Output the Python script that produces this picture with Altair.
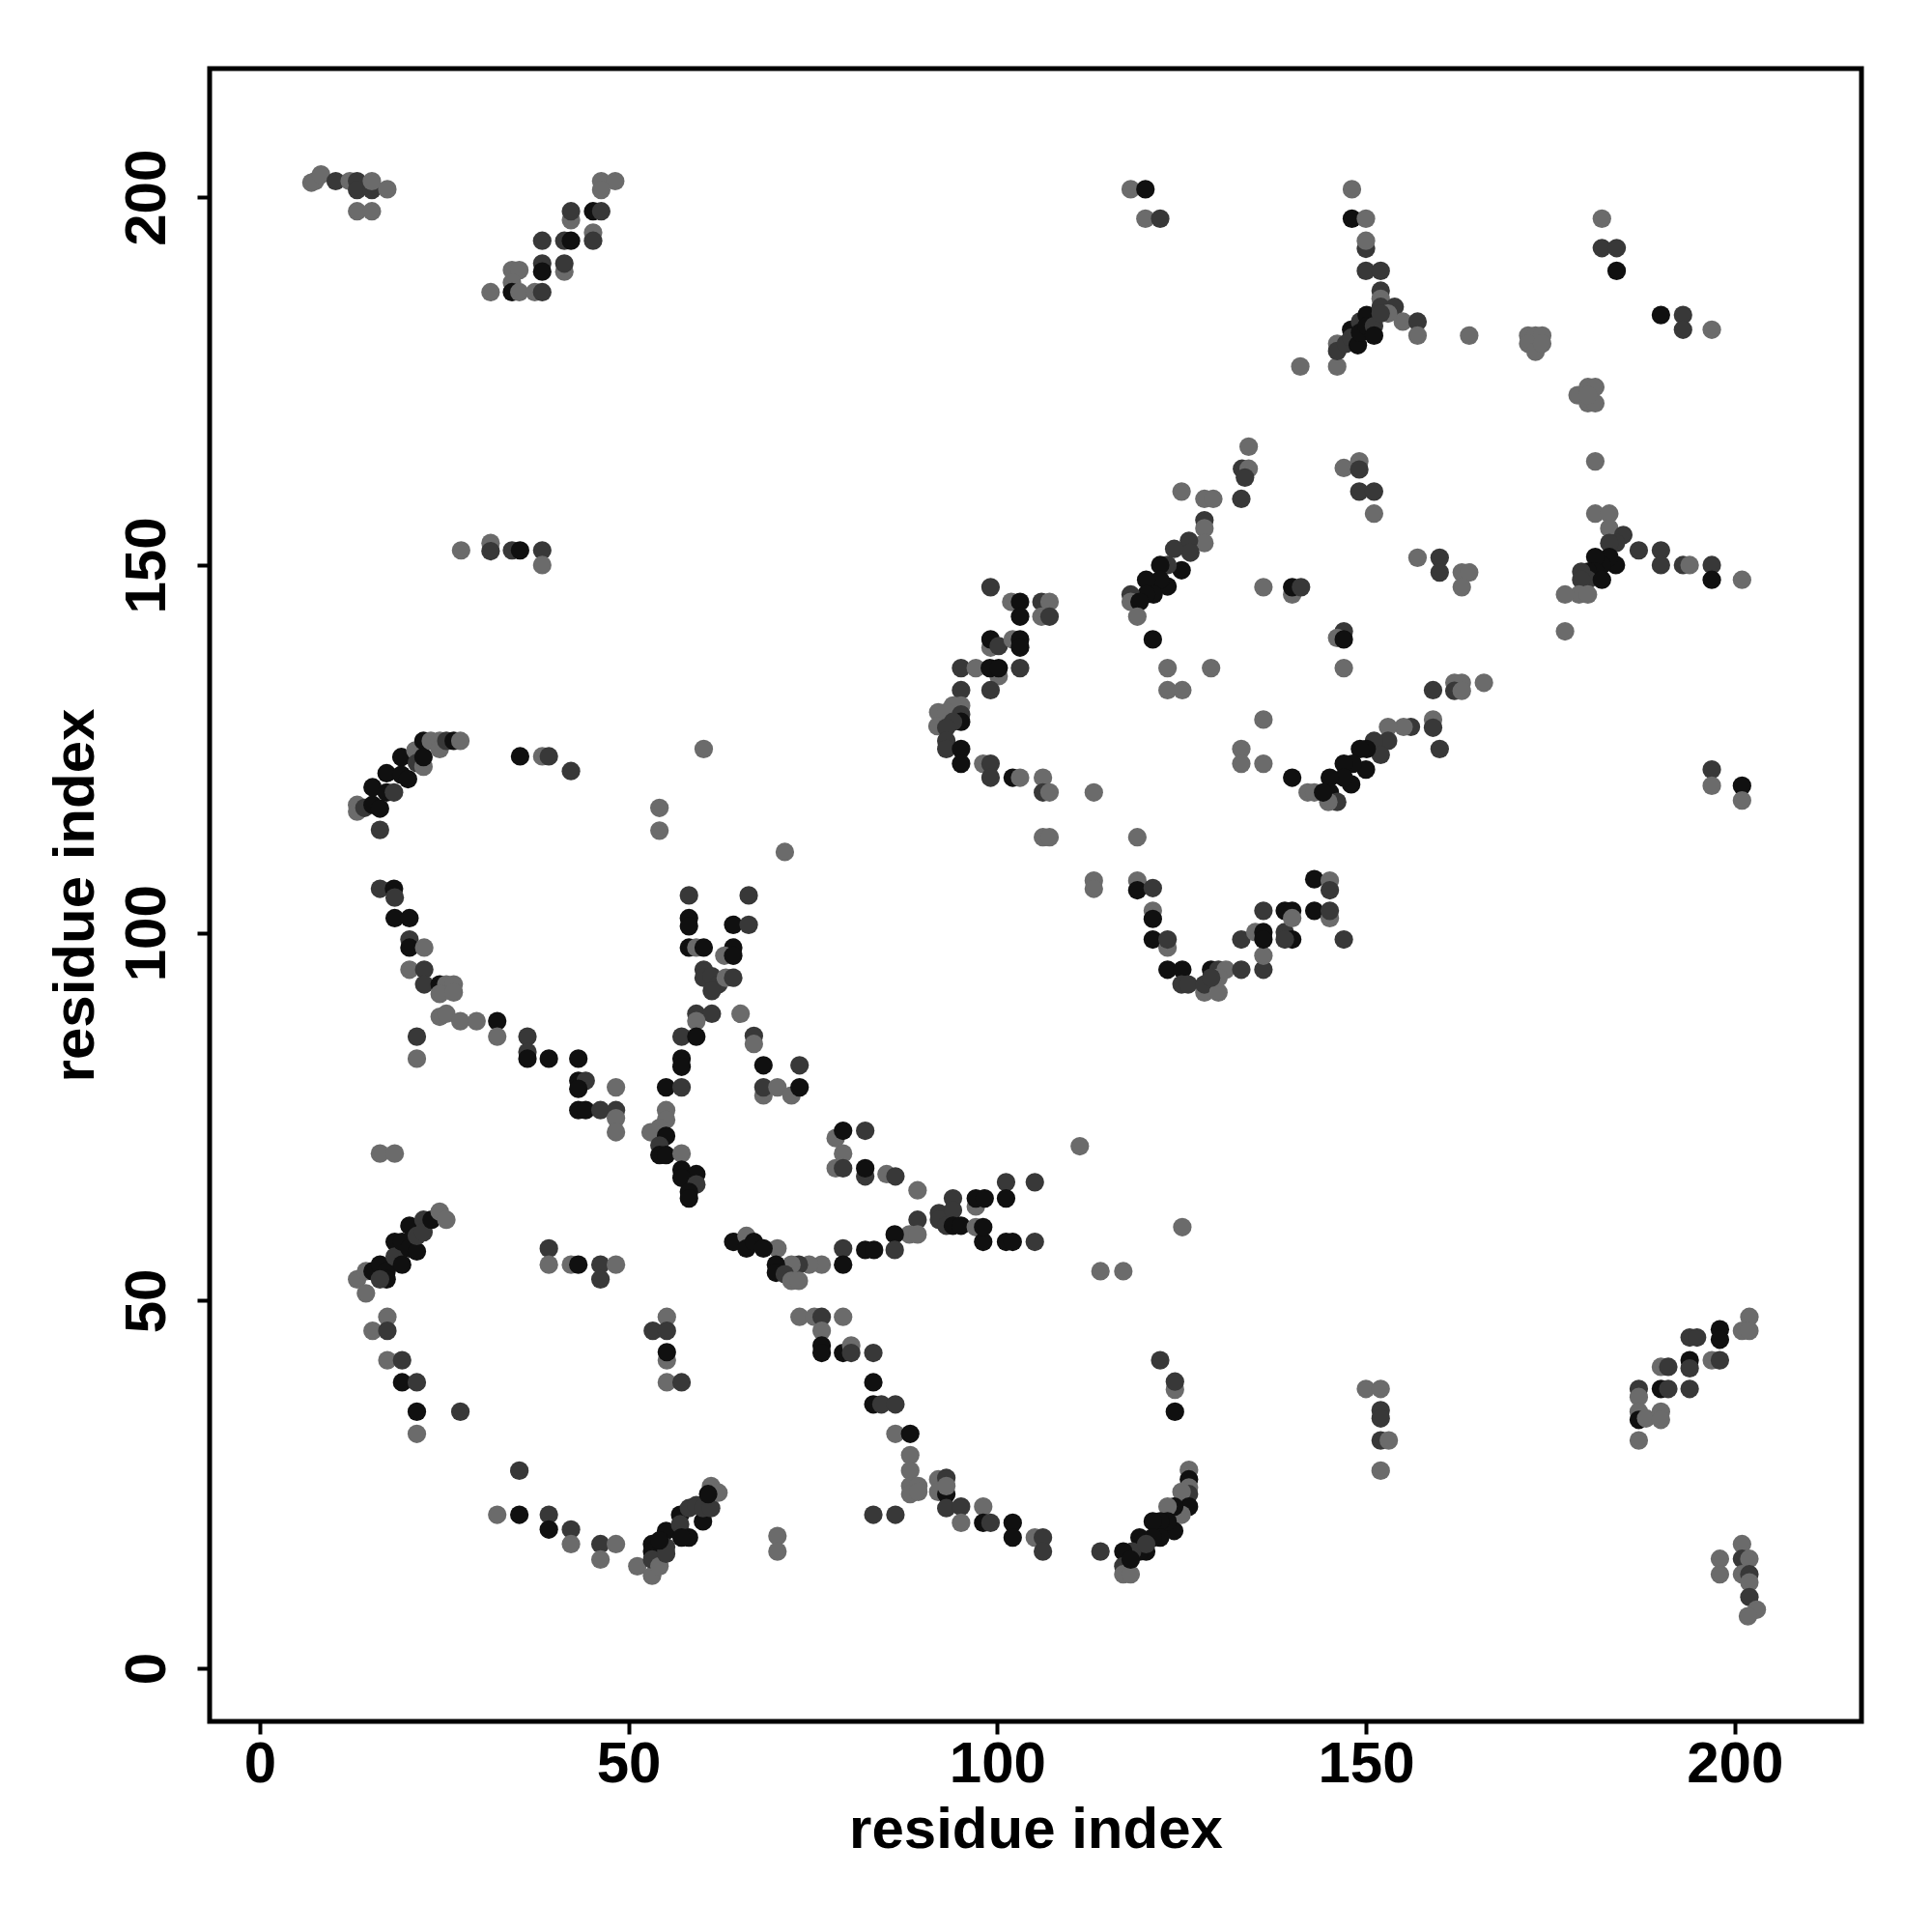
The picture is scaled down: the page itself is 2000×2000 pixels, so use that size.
import altair as alt
import pandas as pd

# (residue i, residue j, shade)  shade: g = gray, d = dark gray, b = black
top_left = [
    (7.0,202.0,'g'),(7.5,202.2,'g'),(8.3,203.1,'g'),(10.3,202.2,'d'),(12.2,202.2,'g'),(13.2,202.2,'d'),
    (13.2,201.0,'d'),(15.2,201.0,'d'),(15.2,202.2,'g'),(17.3,201.1,'g'),(13.2,198.1,'g'),(15.2,198.1,'g'),
    (46.3,202.2,'g'),(48.2,202.2,'g'),(46.3,201.0,'g'),(42.2,196.9,'g'),(42.2,198.1,'d'),(45.2,198.1,'b'),
    (46.3,198.1,'d'),(45.2,195.2,'g'),(45.2,194.1,'d'),(38.3,194.1,'d'),(41.3,194.1,'d'),(42.2,194.1,'b'),
    (38.3,191.0,'d'),(38.3,189.9,'b'),(41.3,189.9,'g'),(41.3,191.0,'d'),(34.2,190.1,'g'),(35.2,190.1,'g'),
    (34.2,188.4,'g'),(31.3,187.1,'g'),(34.2,187.1,'b'),(35.2,187.1,'g'),(37.3,187.1,'g'),(38.3,187.1,'d'),
]
top_mid = [
    (118.1,201.1,'g'),(120.1,201.1,'b'),(120.1,197.1,'g'),(122.1,197.1,'d'),(141.1,177.0,'g'),
    (134.1,166.1,'g'),(133.2,163.1,'d'),(134.1,163.1,'g'),(133.6,161.9,'d'),(125.0,160.0,'g'),
]
top_right = [
    (148.1,201.1,'g'),(148.1,197.1,'b'),(150.0,197.1,'g'),(150.0,193.0,'d'),(150.0,194.1,'g'),(150.0,190.0,'d'),
    (152.0,190.0,'d'),(152.0,187.3,'d'),(152.0,186.2,'g'),(153.9,185.1,'d'),(155.0,183.1,'g'),(157.0,183.1,'d'),
    (157.0,181.2,'g'),(164.0,181.2,'g'),
    (172.0,181.2,'g'),(173.0,181.2,'g'),(173.9,181.2,'g'),(172.0,180.1,'g'),(173.0,179.0,'g'),(173.9,180.1,'g'),
    (146.1,177.0,'g'),(146.1,180.1,'g'),(146.1,179.1,'d'),(147.3,180.1,'d'),(148.0,182.0,'b'),(148.0,180.9,'d'),
    (148.9,179.9,'b'),(149.2,183.1,'d'),(149.2,181.6,'b'),(150.1,184.0,'b'),(150.1,182.5,'b'),(151.1,182.5,'d'),
    (151.1,181.2,'b'),(152.0,185.1,'d'),(153.0,184.2,'g'),(152.0,184.2,'d'),
    (181.1,164.1,'g'),(190.0,184.0,'b'),(193.0,184.0,'d'),(193.0,182.0,'d'),(196.9,182.0,'g'),
    (182.0,197.1,'g'),(182.0,193.1,'d'),(184.0,193.1,'d'),(184.0,190.0,'b'),
    (178.7,173.1,'g'),(180.1,174.2,'g'),(181.1,174.2,'g'),(180.1,172.0,'g'),(181.1,172.0,'g'),(180.1,173.1,'g'),
    (147.0,163.2,'g'),(149.1,164.1,'g'),(149.1,163.0,'d'),
]
mid_left = [
    (27.3,152.0,'g'),(31.3,153.0,'g'),(31.3,151.9,'d'),(34.2,152.0,'d'),(35.3,152.0,'b'),(38.3,152.0,'d'),(38.3,150.0,'g'),
    (13.2,117.4,'g'),(13.2,116.5,'g'),(14.2,117.0,'d'),(15.3,117.4,'b'),(15.3,119.8,'b'),(16.3,116.9,'b'),
    (17.2,121.7,'b'),(17.2,119.1,'b'),(18.2,119.1,'d'),(19.2,123.9,'b'),(19.2,121.5,'b'),(20.1,120.9,'b'),
    (21.1,124.8,'g'),(21.3,123.1,'d'),(22.2,122.6,'g'),(22.2,126.1,'b'),(22.2,123.9,'b'),(23.2,126.1,'g'),
    (24.4,126.1,'g'),(24.4,125.0,'g'),(25.3,126.1,'d'),(26.3,126.1,'b'),(27.2,126.1,'g'),(16.3,114.0,'d'),
    (35.3,124.0,'b'),(38.3,124.0,'g'),(39.2,124.0,'d'),(42.2,122.0,'d'),(60.2,125.0,'g'),(54.2,117.0,'g'),
    (54.2,113.9,'g'),(16.3,106.0,'d'),(18.2,106.0,'b'),(58.2,105.1,'d'),(66.3,105.1,'d'),
]
mid_center = [
    (128.1,159.0,'g'),(129.3,159.0,'g'),(133.1,159.0,'d'),(128.1,156.1,'d'),(128.1,155.0,'g'),(128.1,153.0,'g'),
    (126.0,153.3,'d'),(126.2,151.7,'d'),(124.0,152.2,'d'),(125.0,149.3,'b'),(123.1,150.0,'d'),(122.1,150.0,'b'),
    (123.1,147.1,'b'),(122.1,148.0,'b'),(120.2,148.0,'b'),(121.2,146.0,'b'),(120.2,146.0,'b'),(118.1,146.0,'d'),
    (118.1,145.0,'g'),(119.3,145.0,'b'),(119.0,143.0,'g'),(121.1,139.9,'b'),
    (136.1,147.0,'g'),(140.0,146.0,'g'),(140.0,147.0,'b'),(141.2,147.0,'d'),(123.1,136.0,'g'),(129.0,136.0,'g'),
    (123.1,133.0,'g'),(125.1,133.0,'g'),(136.1,129.0,'g'),(133.1,125.0,'g'),(133.1,123.0,'g'),(136.1,123.0,'g'),
    (140.0,121.1,'b'),(142.1,119.1,'g'),
    (99.1,147.0,'d'),(101.9,145.0,'g'),(103.1,145.0,'b'),(103.1,143.0,'b'),(106.0,145.0,'d'),(107.1,145.0,'g'),
    (106.0,143.0,'g'),(107.1,143.0,'d'),(99.1,138.8,'g'),(99.1,139.9,'b'),(100.2,139.0,'d'),(102.1,139.9,'g'),
    (103.1,139.9,'b'),(103.1,138.8,'b'),(95.1,136.0,'d'),(97.1,136.0,'g'),(100.2,134.9,'g'),(99.0,136.0,'b'),
    (100.2,136.0,'b'),(103.1,136.0,'d'),(95.1,133.0,'d'),(99.1,133.0,'d'),(95.1,130.9,'g'),(94.0,130.9,'g'),
    (92.0,130.0,'g'),(93.1,130.0,'g'),(95.1,129.7,'d'),(95.1,128.7,'b'),(94.0,128.7,'d'),(91.9,128.1,'g'),
    (93.1,127.9,'d'),(93.1,126.1,'d'),(93.1,125.0,'d'),(95.1,125.0,'b'),(95.1,123.0,'b'),(98.1,123.0,'g'),
    (99.1,123.0,'d'),(99.1,121.1,'d'),(102.1,121.1,'b'),(103.1,121.1,'g'),(106.2,121.1,'g'),(106.2,119.1,'d'),
    (107.1,119.1,'g'),(113.1,119.1,'g'),(106.2,113.0,'g'),(107.1,113.0,'g'),(119.0,113.0,'g'),(71.2,111.0,'g'),
    (113.1,107.1,'g'),(113.1,106.0,'g'),(119.0,107.1,'g'),(119.0,105.8,'b'),(121.1,106.1,'d'),
]
mid_right = [
    (149.1,160.0,'d'),(151.1,160.0,'d'),(151.1,157.0,'g'),(157.0,151.0,'g'),(160.0,151.0,'d'),(160.0,149.0,'d'),
    (163.0,149.0,'g'),(164.0,149.0,'g'),(163.0,147.0,'g'),
    (181.1,157.0,'g'),(183.0,157.0,'g'),(183.0,155.0,'g'),(184.9,154.1,'d'),(187.0,152.0,'d'),(190.0,152.0,'d'),
    (190.0,150.0,'d'),(193.0,150.0,'d'),(193.9,150.0,'g'),(196.9,150.0,'d'),(196.9,148.0,'b'),(201.0,148.0,'g'),
    (183.9,153.0,'d'),(183.0,153.0,'d'),(183.9,150.0,'b'),(183.0,151.1,'b'),(182.0,150.0,'b'),(181.1,151.1,'b'),
    (181.1,149.1,'b'),(180.1,149.1,'b'),(180.1,148.0,'d'),(179.2,149.1,'d'),(179.2,148.0,'d'),(182.0,148.0,'b'),
    (178.9,146.0,'g'),(180.1,146.0,'g'),(177.0,146.0,'g'),
    (177.0,141.0,'g'),(147.0,141.0,'d'),(146.1,140.1,'g'),(147.0,139.9,'b'),(147.0,136.0,'g'),(159.1,133.0,'d'),
    (162.0,134.0,'g'),(163.0,134.0,'g'),(162.0,132.9,'d'),(163.0,132.9,'g'),(166.0,134.0,'g'),(159.1,129.0,'g'),
    (159.1,127.9,'d'),(156.1,128.0,'d'),(155.1,128.0,'g'),(153.0,128.0,'g'),(160.0,125.0,'d'),
    (153.0,126.1,'d'),(151.1,126.1,'d'),(152.0,124.2,'d'),(150.1,125.0,'b'),(149.2,125.0,'b'),(150.0,122.2,'b'),
    (148.2,123.0,'b'),(147.0,123.0,'b'),(148.0,120.2,'b'),(147.0,121.1,'b'),(145.1,121.1,'b'),(145.1,119.1,'b'),
    (146.1,117.8,'d'),(144.9,117.8,'g'),(143.0,119.1,'g'),(144.2,119.1,'b'),
    (196.9,122.2,'d'),(196.9,120.0,'g'),(201.0,120.0,'b'),(201.0,118.0,'g'),
    (143.0,107.3,'b'),(145.1,107.1,'g'),(145.1,105.8,'d'),
]
low_left = [
    (18.3,104.8,'d'),(18.3,102.0,'b'),(20.3,102.0,'b'),(20.3,99.1,'d'),(20.3,98.0,'b'),(22.3,98.0,'g'),
    (20.3,95.0,'g'),(22.3,95.0,'d'),(22.3,93.0,'d'),(24.4,93.0,'b'),(25.3,93.0,'g'),(26.3,93.0,'g'),
    (24.4,91.7,'g'),(26.3,91.9,'g'),(24.4,88.6,'g'),(25.3,89.0,'g'),(27.2,88.0,'g'),(29.4,88.0,'g'),
    (32.2,88.0,'b'),(32.2,85.9,'g'),(21.3,85.9,'d'),(21.3,82.9,'g'),(36.3,85.9,'d'),(36.3,83.8,'d'),
    (36.3,82.9,'b'),(39.2,82.9,'b'),(43.2,82.9,'b'),(43.2,79.9,'b'),(44.2,79.9,'d'),(43.2,78.8,'b'),
    (48.3,79.0,'g'),(43.2,75.9,'b'),(44.2,75.9,'b'),(46.2,75.9,'d'),(48.3,75.9,'d'),(48.3,74.8,'g'),
    (48.3,72.9,'g'),(16.3,70.0,'g'),(18.3,70.0,'g'),
    (13.2,52.9,'g'),(14.4,51.0,'g'),(14.4,54.0,'g'),(15.3,54.0,'b'),(16.3,54.9,'b'),(17.2,54.0,'b'),
    (17.2,52.9,'b'),(16.3,52.9,'d'),(18.3,58.0,'b'),(18.3,56.0,'d'),(19.3,54.9,'b'),(19.3,58.0,'b'),
    (20.3,60.2,'b'),(20.3,57.1,'b'),(21.3,56.7,'b'),(21.3,58.8,'d'),(22.2,61.0,'d'),(22.2,59.3,'d'),
    (23.3,61.0,'b'),(24.4,62.1,'g'),(25.3,61.0,'g'),
    (39.2,57.1,'d'),(39.2,54.9,'g'),(42.2,54.9,'g'),(43.2,54.9,'b'),(46.2,54.9,'d'),(48.3,54.9,'g'),(46.2,52.9,'d'),
    (58.2,102.0,'b'),(58.2,100.9,'b'),(64.2,101.1,'b'),(66.3,101.1,'d'),(58.2,98.0,'b'),(59.2,98.0,'g'),
    (60.2,98.0,'b'),(64.2,98.0,'b'),(63.0,96.9,'g'),(64.2,96.9,'b'),(60.2,95.0,'d'),(60.2,93.9,'d'),
    (61.3,94.1,'d'),(62.2,93.0,'d'),(61.3,92.1,'d'),(63.2,93.9,'g'),(64.2,93.9,'d'),(59.2,89.0,'d'),
    (61.3,89.0,'d'),(59.2,88.0,'g'),(65.2,89.0,'g'),(57.2,85.9,'d'),(59.2,85.9,'b'),(57.2,82.9,'b'),
    (57.2,81.8,'b'),(55.1,79.0,'b'),(57.2,79.0,'d'),(55.1,75.9,'g'),(55.1,74.6,'g'),(54.2,73.5,'g'),
    (53.0,72.9,'g'),(55.1,72.4,'b'),(54.2,71.1,'d'),(54.2,69.8,'b'),(55.1,69.8,'b'),(57.2,70.0,'g'),
    (57.2,67.8,'b'),(59.2,67.2,'b'),(57.2,66.7,'b'),(59.2,65.8,'d'),(58.2,64.8,'b'),(58.2,63.9,'b'),
    (67.0,86.0,'d'),(67.0,84.9,'g'),(64.2,58.0,'b'),(66.0,58.8,'g'),(66.0,57.1,'b'),(67.0,58.0,'b'),
]
low_center = [
    (68.3,82.0,'b'),(73.2,82.0,'d'),(68.3,77.9,'g'),(68.3,79.0,'d'),(70.2,79.0,'g'),(72.1,77.9,'g'),(73.2,79.0,'b'),
    (78.1,72.1,'g'),(79.1,73.1,'b'),(82.1,73.1,'d'),(79.1,70.0,'g'),(78.1,68.0,'g'),(79.1,68.0,'d'),
    (82.1,66.9,'d'),(82.1,68.0,'b'),(85.0,67.2,'g'),(86.2,66.9,'d'),(89.2,65.0,'g'),(111.2,71.0,'g'),
    (125.1,60.0,'g'),(94.0,63.9,'d'),(97.1,62.8,'g'),(97.1,63.9,'b'),(98.3,63.9,'b'),(101.2,66.1,'d'),
    (105.1,66.1,'d'),(101.2,63.9,'b'),(92.1,61.9,'d'),(92.1,61.0,'d'),(93.1,60.2,'d'),(94.0,62.3,'d'),
    (94.0,60.2,'b'),(95.1,60.2,'b'),(97.1,60.0,'g'),(98.1,58.0,'b'),(98.1,60.0,'b'),(101.2,58.0,'b'),
    (102.1,58.0,'b'),(105.1,58.0,'d'),(89.2,61.0,'d'),(88.1,59.0,'g'),(89.2,59.0,'g'),(86.1,59.0,'b'),
    (86.1,56.9,'d'),(82.1,56.9,'b'),(83.3,56.9,'b'),(79.1,57.1,'d'),(79.1,54.9,'b'),(76.2,54.9,'g'),
    (74.5,54.9,'g'),(73.1,54.9,'d'),(72.1,54.9,'g'),(70.2,57.1,'g'),(70.0,54.9,'b'),(70.0,53.8,'b'),
    (71.2,53.6,'d'),(72.1,52.7,'g'),(73.1,52.7,'g'),(68.3,57.1,'b'),(114.0,54.0,'g'),(117.1,54.0,'g'),
    (121.1,103.0,'g'),(121.1,101.9,'b'),(121.1,99.1,'b'),(123.1,98.0,'g'),(123.1,99.1,'d'),(123.1,95.0,'b'),
    (125.1,95.0,'b'),(125.0,93.0,'d'),(125.9,93.0,'d'),(128.1,91.9,'g'),(128.1,93.0,'d'),(129.0,95.0,'b'),
    (130.0,95.0,'d'),(131.0,95.0,'g'),(130.0,91.9,'g'),(130.0,93.9,'g'),(129.0,93.9,'d'),(133.1,95.0,'d'),
    (136.1,95.0,'d'),(136.1,96.9,'g'),(133.1,99.1,'d'),(135.0,100.1,'g'),(136.1,100.1,'b'),(136.1,99.1,'b'),
    (136.1,103.0,'d'),(139.0,103.0,'b'),(140.0,103.0,'b'),(139.0,100.1,'d'),(140.0,99.1,'b'),(139.0,99.1,'d'),
    (140.0,102.0,'g'),(143.0,103.0,'b'),(145.1,102.0,'g'),(145.1,103.0,'d'),(147.0,99.1,'d'),
]
bottom_left = [
    (17.3,47.8,'g'),(15.3,45.9,'g'),(17.3,45.9,'d'),(17.3,41.9,'g'),(19.3,41.9,'d'),(19.3,38.9,'b'),
    (21.3,38.9,'d'),(21.3,34.9,'b'),(21.3,31.9,'g'),(27.2,34.9,'d'),(35.2,26.9,'d'),(32.2,20.9,'g'),
    (35.2,20.9,'b'),(39.2,20.9,'d'),(39.2,18.9,'b'),(42.2,18.9,'d'),(42.2,16.9,'g'),(46.2,16.9,'d'),
    (48.3,16.9,'g'),(46.2,14.8,'g'),(51.2,13.9,'g'),(53.2,12.6,'g'),
    (53.2,16.9,'b'),(53.2,15.9,'b'),(53.2,14.8,'d'),(54.2,13.9,'g'),(55.1,18.7,'b'),(55.1,16.5,'d'),
    (55.1,15.6,'d'),(54.2,17.4,'b'),(57.0,20.9,'b'),(57.0,19.6,'d'),(58.2,17.8,'b'),(57.2,17.8,'b'),
    (58.2,21.8,'d'),(59.2,22.2,'d'),(60.1,20.0,'b'),(60.1,21.8,'d'),(61.2,21.8,'d'),(61.2,24.8,'g'),
    (62.2,23.9,'g'),(60.8,23.7,'b'),
    (55.2,47.8,'g'),(53.3,45.9,'d'),(55.2,45.9,'d'),(55.2,41.9,'g'),(55.2,43.0,'b'),(55.2,38.9,'g'),(57.2,38.9,'d'),
]
bottom_center = [
    (73.2,47.8,'g'),(75.2,47.8,'g'),(76.2,47.8,'d'),(79.1,47.8,'g'),(76.2,45.9,'g'),(76.2,43.9,'b'),
    (76.2,42.9,'b'),(79.1,42.9,'b'),(80.2,43.9,'g'),(80.2,42.9,'d'),(83.2,42.9,'d'),(83.2,38.9,'b'),
    (83.2,35.9,'b'),(84.3,35.9,'d'),(86.2,35.9,'d'),(86.2,31.9,'g'),(88.2,31.9,'b'),(88.2,29.0,'g'),
    (88.2,26.9,'g'),(88.2,24.8,'g'),(89.3,24.8,'g'),(88.2,23.7,'g'),(89.3,24.0,'g'),(92.0,25.7,'g'),
    (93.1,25.9,'d'),(92.0,24.0,'g'),(93.1,23.7,'b'),(93.1,24.8,'g'),(93.1,21.8,'d'),(95.1,22.0,'d'),
    (95.1,19.8,'g'),(98.1,22.0,'g'),(98.1,19.8,'b'),(99.1,19.8,'d'),(102.1,19.8,'b'),(102.1,17.8,'b'),
    (105.1,17.8,'g'),(106.2,17.8,'d'),(106.2,15.9,'d'),(83.2,20.9,'d'),(86.2,20.9,'d'),(70.2,18.0,'g'),
    (70.2,15.9,'g'),(114.0,15.9,'d'),(122.1,41.9,'d'),(124.1,37.9,'g'),(124.1,39.0,'d'),(124.1,34.9,'b'),
    (126.0,27.0,'g'),(126.0,25.7,'b'),(126.0,24.6,'g'),(126.0,23.7,'d'),(125.0,24.0,'g'),(126.0,22.0,'b'),
    (125.0,20.9,'g'),(124.0,22.0,'b'),(123.1,22.0,'g'),(124.0,18.7,'b'),(123.1,20.0,'b'),(122.1,20.0,'b'),
    (122.1,17.8,'b'),(121.1,20.0,'b'),(121.1,17.8,'b'),(120.2,15.9,'b'),(119.3,17.8,'b'),(119.3,15.9,'b'),
    (118.3,15.9,'d'),(117.1,15.9,'b'),(117.1,13.9,'d'),(117.1,12.8,'g'),(118.1,12.8,'g'),(118.1,14.8,'b'),
    (120.2,16.9,'d'),
]
bottom_right = [
    (202.0,47.8,'g'),(201.0,45.9,'g'),(202.0,45.9,'g'),(198.0,46.1,'b'),(198.0,44.7,'b'),(193.9,45.0,'d'),
    (194.9,45.0,'d'),(196.9,41.9,'g'),(198.0,41.9,'d'),(193.9,41.9,'b'),(193.9,40.8,'d'),(190.0,41.0,'g'),
    (191.0,41.0,'d'),(187.0,38.0,'d'),(187.0,36.9,'g'),(190.0,38.0,'b'),(191.0,38.0,'d'),(193.9,38.0,'d'),
    (187.0,34.9,'g'),(187.0,33.8,'b'),(188.0,34.0,'g'),(190.0,34.9,'g'),(190.0,33.8,'g'),(187.0,31.0,'g'),
    (150.0,38.0,'g'),(152.0,38.0,'g'),(152.0,35.1,'d'),(152.0,34.0,'d'),(152.0,31.0,'d'),(153.1,31.0,'g'),
    (152.0,26.9,'g'),
    (201.0,16.9,'g'),(198.0,14.9,'g'),(198.0,12.8,'g'),(201.0,14.9,'d'),(202.0,14.9,'g'),(201.0,12.8,'g'),
    (202.0,12.8,'d'),(202.0,11.7,'g'),(202.0,9.7,'d'),(203.0,8.0,'g'),(201.8,7.1,'g'),
]

regions = [top_left, top_mid, top_right, mid_left, mid_center, mid_right,
           low_left, low_center, bottom_left, bottom_center, bottom_right]
rows = [p for reg in regions for p in reg]
df = pd.DataFrame(rows, columns=["i", "j", "shade"])

shade_domain = ["g", "d", "b"]
shade_colors = ["#6b6b6b", "#383838", "#101010"]
tick_values = [0, 50, 100, 150, 200]

FONT = "Liberation Sans"
FS = 60
W, H = 1710, 1711

chart = alt.Chart(df).mark_circle(size=370, opacity=1).encode(
    x=alt.X("i:Q", scale=alt.Scale(domain=[-6.8, 217.2], nice=False, zero=False),
            axis=alt.Axis(values=tick_values, title="residue index", grid=False, domain=False,
                          tickColor="black", tickWidth=4, tickSize=13, labelPadding=2,
                          labelFont=FONT, labelFontSize=FS, labelFontWeight="bold", labelColor="black",
                          titleFont=FONT, titleFontSize=FS, titleFontWeight="bold", titleColor="black",
                          titleY=130, titleBaseline="alphabetic", labelFlush=False)),
    y=alt.Y("j:Q", scale=alt.Scale(domain=[-7.2, 217.5], nice=False, zero=False),
            axis=alt.Axis(values=tick_values, title="residue index", grid=False, domain=False,
                          tickColor="black", tickWidth=4, tickSize=13, labelPadding=34,
                          labelAngle=270, labelAlign="center", labelBaseline="alphabetic",
                          labelFont=FONT, labelFontSize=FS, labelFontWeight="bold", labelColor="black",
                          titleFont=FONT, titleFontSize=FS, titleFontWeight="bold", titleColor="black",
                          titleAngle=270, titleAlign="center", titleBaseline="alphabetic",
                          titleX=-121, titleY=H / 2, labelFlush=False)),
    color=alt.Color("shade:N", scale=alt.Scale(domain=shade_domain, range=shade_colors), legend=None),
).properties(
    width=W, height=H,
    autosize="none",
    padding={"left": 209, "top": 63, "right": 60, "bottom": 200},
    background="white",
).configure_view(stroke="black", strokeWidth=5)

chart.save("out.html", embed_options={"renderer": "svg", "actions": False})
